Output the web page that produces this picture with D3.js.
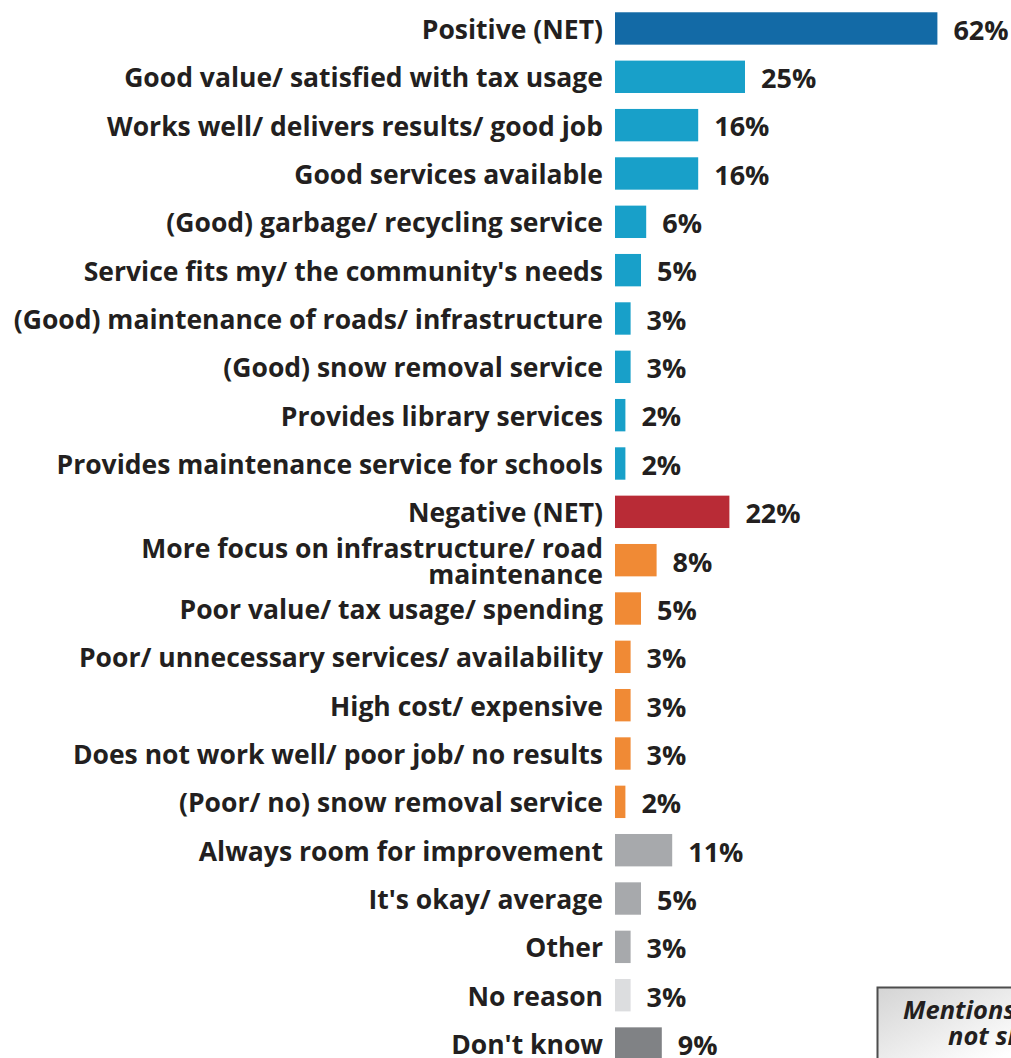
<!DOCTYPE html>
<html>
<head>
<meta charset="utf-8">
<script src="https://cdn.jsdelivr.net/npm/d3@7"></script>
<style>
  html, body { margin: 0; padding: 0; background: #ffffff; }
  svg { display: block; }
  text { font-family: "Open Sans", "DejaVu Sans", sans-serif; font-weight: 700; fill: #231f20; }
</style>
</head>
<body>
<svg id="chart" width="1011" height="1058"></svg>
<script>
// Reasons given, in display order (a "\n" breaks a label onto two lines)
const categories = [
  "Positive (NET)",
  "Good value/ satisfied with tax usage",
  "Works well/ delivers results/ good job",
  "Good services available",
  "(Good) garbage/ recycling service",
  "Service fits my/ the community's needs",
  "(Good) maintenance of roads/ infrastructure",
  "(Good) snow removal service",
  "Provides library services",
  "Provides maintenance service for schools",
  "Negative (NET)",
  "More focus on infrastructure/ road\nmaintenance",
  "Poor value/ tax usage/ spending",
  "Poor/ unnecessary services/ availability",
  "High cost/ expensive",
  "Does not work well/ poor job/ no results",
  "(Poor/ no) snow removal service",
  "Always room for improvement",
  "It's okay/ average",
  "Other",
  "No reason",
  "Don't know"
];

// Share of respondents (%)
const values = [62, 25, 16, 16, 6, 5, 3, 3, 2, 2, 22, 8, 5, 3, 3, 3, 2, 11, 5, 3, 3, 9];

// Group each reason belongs to
const groups = [
  "posNet", "pos", "pos", "pos", "pos", "pos", "pos", "pos", "pos", "pos",
  "negNet", "neg", "neg", "neg", "neg", "neg", "neg",
  "neutral", "neutral", "neutral", "noReason", "dontKnow"
];

const noteLines = ["Mentions <3%", "not shown"];

const groupColor = {
  posNet: "#136aa6",
  pos: "#18a0c9",
  negNet: "#b92b36",
  neg: "#f08a35",
  neutral: "#a7a9ac",
  noReason: "#dcdddf",
  dontKnow: "#808285"
};

const rows = categories.map((c, i) => ({ category: c, value: values[i], group: groups[i] }));

const svg = d3.select("#chart");
const barLeft = 615;

const x = d3.scaleLinear().domain([0, 100]).range([barLeft, barLeft + 520]);
const y = d3.scaleBand()
  .domain(categories)
  .range([4.3, 1067.7])
  .paddingInner(0.33)
  .paddingOuter(0.165);

// Bars
svg.append("g")
  .selectAll("rect")
  .data(rows)
  .join("rect")
  .attr("x", x(0))
  .attr("y", d => y(d.category))
  .attr("width", d => x(d.value) - x(0))
  .attr("height", y.bandwidth())
  .attr("fill", d => groupColor[d.group]);

// Value labels
svg.append("g")
  .selectAll("text")
  .data(rows)
  .join("text")
  .attr("x", d => x(d.value) + 16)
  .attr("y", d => y(d.category) + y.bandwidth() / 2)
  .attr("dy", "0.42em")
  .style("font-size", "27px")
  .text(d => d.value + "%");

// Category labels, right-aligned against the bars
const labels = svg.append("g")
  .selectAll("text")
  .data(rows)
  .join("text")
  .attr("text-anchor", "end")
  .attr("x", barLeft - 12)
  .attr("y", d => y(d.category) + y.bandwidth() / 2)
  .style("font-size", "26.5px");

labels.each(function(d) {
  const lines = d.category.split("\n");
  const lh = 26;
  const t = d3.select(this);
  lines.forEach((ln, k) => {
    t.append("tspan")
      .attr("x", barLeft - 12)
      .attr("y", y(d.category) + y.bandwidth() / 2 + (k - (lines.length - 1) / 2) * lh)
      .attr("dy", "0.4em")
      .text(ln);
  });
});

// Note box in the lower right corner
const defs = svg.append("defs");
const grad = defs.append("linearGradient")
  .attr("id", "noteFill")
  .attr("x1", "0").attr("y1", "0").attr("x2", "1").attr("y2", "1");
grad.append("stop").attr("offset", "0%").attr("stop-color", "#d4d4d4");
grad.append("stop").attr("offset", "60%").attr("stop-color", "#ffffff");

const note = svg.append("g");
note.append("rect")
  .attr("x", 877.5).attr("y", 987.5)
  .attr("width", 220).attr("height", 110)
  .attr("fill", "url(#noteFill)")
  .attr("stroke", "#4d4d4d")
  .attr("stroke-width", 2);
note.selectAll("text")
  .data(noteLines)
  .join("text")
  .attr("x", (d, i) => i === 0 ? 903 : 948)
  .attr("y", (d, i) => 1019 + i * 26)
  .style("font-size", "25.5px")
  .style("font-style", "italic")
  .text(d => d);
</script>
</body>
</html>
